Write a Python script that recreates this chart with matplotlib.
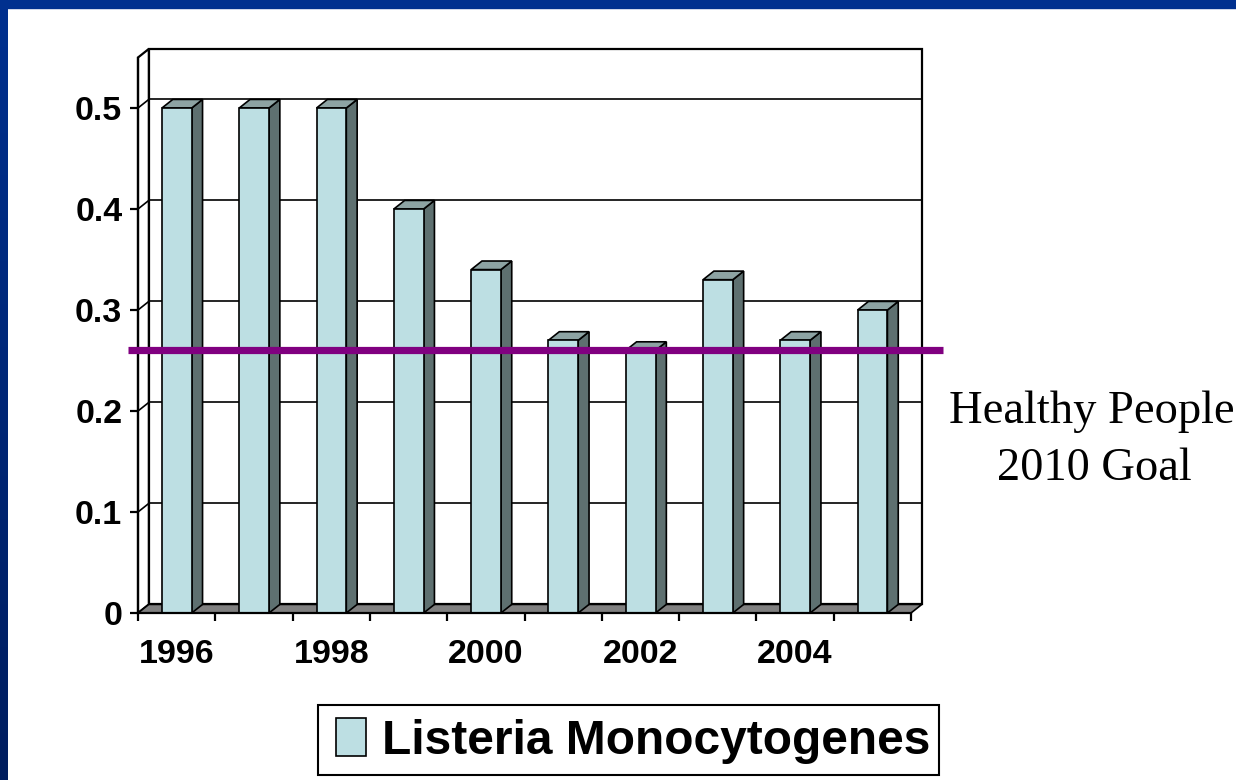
import numpy as np
import matplotlib
matplotlib.use("Agg")
import matplotlib.pyplot as plt
from matplotlib.patches import Polygon, Rectangle, Patch

# データ
years = [1996, 1997, 1998, 1999, 2000, 2001, 2002, 2003, 2004, 2005]
rates = [0.50, 0.50, 0.50, 0.40, 0.34, 0.27, 0.26, 0.33, 0.27, 0.30]
goal = 0.26
series_name = "Listeria Monocytogenes"
goal_label = ["Healthy People", "2010 Goal"]
y_ticks = [0, 0.1, 0.2, 0.3, 0.4, 0.5]
y_max = 0.55

# 色
front_col = "#BDDFE3"
side_col = "#5E7070"
top_col = "#8DA3A3"
floor_col = "#808080"
goal_col = "#800080"

W, H = 1236, 780
fig = plt.figure(figsize=(W / 100, H / 100), dpi=100)
fig.patch.set_facecolor("white")

# スライドの青い枠 (上と左)
fig.patches.append(Rectangle((0, 1 - 8 / H), 1, 8 / H, transform=fig.transFigure,
                             color="#00308F", zorder=0))
strip = fig.add_axes([0, 0, 8 / W, 1])
grad = np.linspace(0, 1, 200)[:, None]
top_rgb = np.array([0, 48, 143]) / 255
bot_rgb = np.array([0, 30, 95]) / 255
img = (top_rgb * (1 - grad) + bot_rgb * grad)[:, None, :]
strip.imshow(img, aspect="auto", extent=[0, 1, 0, 1])
strip.axis("off")

# メインの軸
ax = fig.add_axes([138 / W, 167 / H, 773 / W, 555.5 / H])
n = len(years)
ax.set_xlim(0, n)
ax.set_ylim(0, y_max)
ax.patch.set_visible(False)

dx, dy = 0.14, 0.0085  # 奥行き


def poly(pts, fc, lw=1.2, z=1):
    ax.add_patch(Polygon(pts, closed=True, fc=fc, ec="black", lw=lw,
                         clip_on=False, zorder=z))


# 奥の壁とグリッド
ax.add_patch(Rectangle((dx, dy), n, y_max, fc="white", ec="black", lw=1.6,
                       clip_on=False, zorder=0.5))
for t in y_ticks[1:]:
    ax.plot([dx, n + dx], [t + dy, t + dy], color="black", lw=1.2,
            clip_on=False, zorder=0.6)

# 左の壁
poly([(0, 0), (dx, dy), (dx, y_max + dy), (0, y_max)], "white", lw=1.6, z=0.7)
for t in y_ticks[1:]:
    ax.plot([0, dx], [t, t + dy], color="black", lw=1.2, clip_on=False, zorder=0.8)

# 床
poly([(0, 0), (n, 0), (n + dx, dy), (dx, dy)], floor_col, lw=1.2, z=0.9)

# 棒
for i, v in enumerate(rates):
    x0, x1 = i + 0.31, i + 0.695
    poly([(x1, 0), (x1 + dx, dy), (x1 + dx, v + dy), (x1, v)], side_col, z=2)
    poly([(x0, v), (x1, v), (x1 + dx, v + dy), (x0 + dx, v + dy)], top_col, z=2)
    poly([(x0, 0), (x1, 0), (x1, v), (x0, v)], front_col, z=2)

# 目標ライン
ax.plot([-0.13, n + 0.41], [goal, goal], color=goal_col, lw=5.2,
        solid_capstyle="butt", clip_on=False, zorder=5)

# 軸と目盛り
for s in ["top", "right"]:
    ax.spines[s].set_visible(False)
for s in ["left", "bottom"]:
    ax.spines[s].set_linewidth(1.6)
    ax.spines[s].set_zorder(4)
ax.set_xticks(range(n + 1), labels=[""] * (n + 1))
ax.set_xticks([i + 0.5 for i in range(0, n, 2)],
              labels=[str(years[i]) for i in range(0, n, 2)], minor=True)
ax.set_yticks(y_ticks, labels=[f"{t:g}" for t in y_ticks])
ax.tick_params(which="major", direction="out", length=5.8, width=1.6)
ax.tick_params(axis="x", which="minor", length=0, pad=19)
ax.tick_params(axis="y", pad=5.5)
for lab in ax.get_yticklabels() + ax.get_xticklabels(minor=True):
    lab.set_fontfamily("Liberation Sans")
    lab.set_fontweight("bold")
    lab.set_fontsize(24.5)

# 注釈
fig.text(1092 / W, 1 - 423 / H, goal_label[0], ha="center", va="baseline",
         fontfamily="Liberation Serif", fontsize=33.5)
fig.text(1094 / W, 1 - 480 / H, goal_label[1], ha="center", va="baseline",
         fontfamily="Liberation Serif", fontsize=33.5)

# 凡例
fig.patches.append(Rectangle((318 / W, 5 / H), 621 / W, 70 / H,
                             transform=fig.transFigure, fc="white", ec="black",
                             lw=1.5, zorder=1))
leg = fig.legend([Patch(fc=front_col, ec="black", lw=1.2)], [series_name],
                 loc="center left", bbox_to_anchor=(336 / W, 1 - 741 / H),
                 frameon=False, borderpad=0, borderaxespad=0,
                 handlelength=0.62, handleheight=0.85, handletextpad=0.35,
                 prop={"family": "Liberation Sans", "weight": "bold", "size": 34.5})
leg.set_zorder(3)

fig.savefig("out.png", dpi=100)
